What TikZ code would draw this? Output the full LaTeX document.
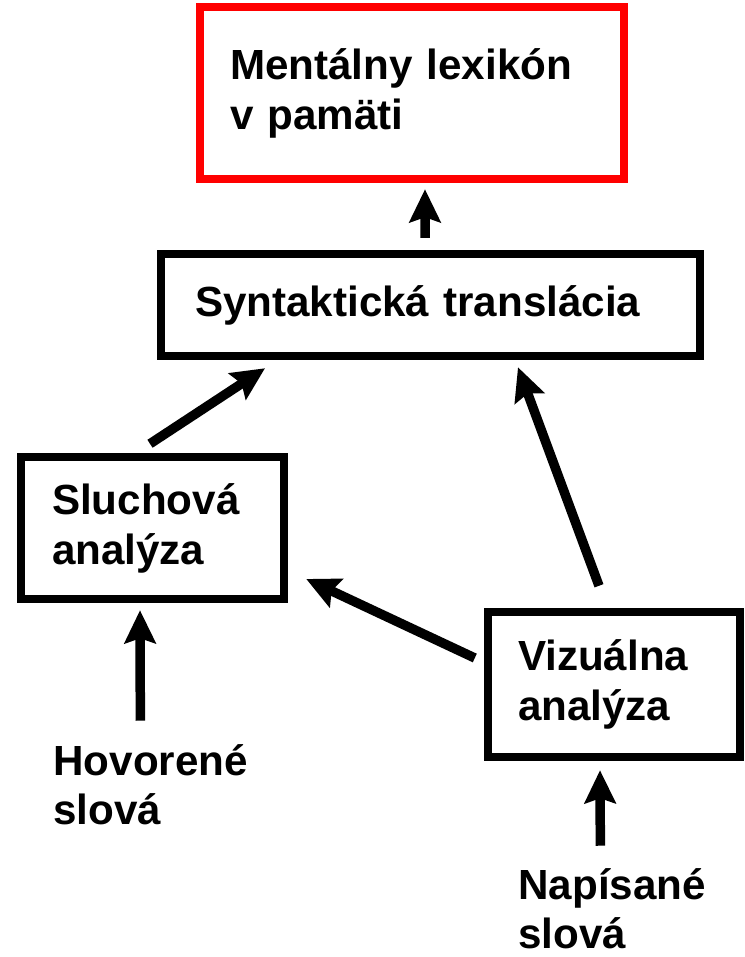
\documentclass[tikz,border=0pt]{standalone}
\usepackage{fontspec}
\setmainfont{Liberation Sans}
\usepackage{tikz}
\usetikzlibrary{arrows.meta,positioning,calc}

\begin{document}
\begin{tikzpicture}[x=0.02cm,y=-0.02cm,
  box/.style={draw=black, line width=0.17cm, inner ysep=0pt, align=left,
    font=\fontsize{24}{28.45}\selectfont\bfseries},
  word/.style={inner sep=0pt, align=left, anchor=base west,
    font=\fontsize{24}{28.45}\selectfont\bfseries},
  arr/.style={-{Stealth[length=0.66cm, width=0.62cm, inset=0.1cm]}, line width=0.19cm}]
\useasboundingbox (0,0) rectangle (744,957);
% Boxes
\node[box, draw=red, inner xsep=0.6cm, text width=7.28cm, minimum height=3.44cm] (lexikon) at (412,93) {Mentálny lexikón\\v pamäti};
\node[box, inner xsep=0.68cm, text width=9.42cm, minimum height=2.04cm] (syntax) at (430.5,305) {Syntaktická translácia};
\node[box, inner xsep=0.62cm, text width=4.02cm, minimum height=2.84cm] (sluch) at (152.5,528) {Sluchová\\analýza};
\node[box, inner xsep=0.6cm, text width=3.84cm, minimum height=2.9cm] (vizual) at (614,684.5) {Vizuálna\\analýza};
% Inputs
\node[word, text width=4cm] (hovor) at (53,775) {Hovorené\\slová};
\node[word, text width=3.9cm] (napis) at (518,899) {Napísané\\slová};
% Arrows
\draw[arr] ([xshift=-0.11cm, yshift=0.24cm]syntax.north) -- ([xshift=0.26cm, yshift=-0.12cm]lexikon.south);
\draw[arr] ([xshift=-0.05cm, yshift=0.18cm]sluch.north) -- ([xshift=-3.31cm, yshift=-0.16cm]syntax.south);
\draw[arr] ([xshift=-0.3cm, yshift=0.44cm]vizual.north) -- ([xshift=1.75cm, yshift=-0.14cm]syntax.south);
\draw[arr] ([xshift=-0.18cm, yshift=0.53cm]vizual.west) -- ([xshift=0.36cm, yshift=-1.02cm]sluch.east);
\draw[arr] ([xshift=-0.26cm, yshift=0.46cm]hovor.north) -- ([xshift=-0.25cm, yshift=-0.14cm]sluch.south);
\draw[arr] ([xshift=-0.31cm, yshift=0.44cm]napis.north) -- ([xshift=-0.28cm, yshift=-0.18cm]vizual.south);
\end{tikzpicture}
\end{document}
